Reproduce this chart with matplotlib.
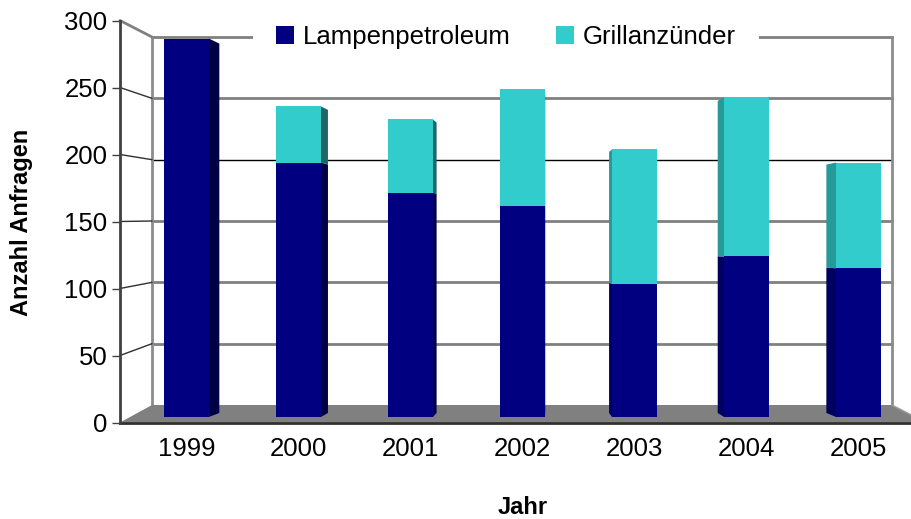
import numpy as np
import matplotlib
matplotlib.use('Agg')
import matplotlib.pyplot as plt
import matplotlib.transforms as mtransforms
from matplotlib.patches import Polygon, Patch, ConnectionPatch
from matplotlib.lines import Line2D

# data
years = ['1999', '2000', '2001', '2002', '2003', '2004', '2005']
lampenpetroleum = [290, 195, 172, 162, 102, 123, 114]
grillanzuender = [0, 43, 56, 89, 103, 122, 81]
series_names = ['Lampenpetroleum', 'Grillanzünder']
yticks = [0, 50, 100, 150, 200, 250, 300]

front_colors = ['#000080', '#33CCCC']
side_right = ['#000044', '#1f6666']
side_left = ['#00005e', '#269999']

W, H = 912, 519
plt.rcParams['font.family'] = ['Liberation Sans', 'DejaVu Sans']
fig = plt.figure(figsize=(W / 100, H / 100), dpi=100)


def fx(px):
    return px / W


def fy(py):
    return 1 - py / H


# pseudo 3D box, in pixels
wall_l, wall_r, wall_top, wall_bot = 152, 892, 37, 405
front_x, front_top, front_bot = 120, 20.5, 422.5
bar_bot, bar_scale = 417, 1.305
first_c, step = 186.5, 112
bar_w = 0.4
vp, depth = 3.1, 0.03      # vanishing point (category units) and side depth
fs = 18.5

"""
Back wall
"""
wall = fig.add_axes([fx(wall_l), fy(wall_bot), fx(wall_r - wall_l), (wall_bot - wall_top) / H], zorder=0)
wall.set_xlim(0, 1)
wall.set_ylim(0, 300)
for v in yticks[1:]:
    if v == 200:
        wall.axhline(v, color='black', lw=1, clip_on=False)
    else:
        wall.axhline(v, color='#808080', lw=2, clip_on=False)
wall.set_xticks([])
wall.set_yticks([])
for s in ['top', 'bottom']:
    wall.spines[s].set_visible(False)
for s in ['left', 'right']:
    wall.spines[s].set_color('#8c8c8c')
    wall.spines[s].set_linewidth(2)

"""
Front value axis
"""
front = fig.add_axes([fx(front_x), fy(front_bot), 0.0001, (front_bot - front_top) / H], zorder=3)
front.set_ylim(0, 300)
front.set_yticks(yticks)
front.set_xticks([])
front.tick_params(axis='y', length=6, width=1, color='#404040', labelsize=fs, pad=3)
for s in ['right', 'top', 'bottom']:
    front.spines[s].set_visible(False)
front.spines['left'].set_color('#404040')
front.spines['left'].set_linewidth(2)
front.patch.set_visible(False)

# slanted lines from the front ticks to the wall gridlines
for v in yticks[1:]:
    con = ConnectionPatch(xyA=(0, v), coordsA=front.transData, xyB=(0, v), coordsB=wall.transData,
                          color='#808080' if v == 300 else '#303030', lw=2 if v == 300 else 1)
    fig.add_artist(con)

"""
Bars
"""
ax = fig.add_axes([fx(front_x), fy(bar_bot), fx(W - front_x), (bar_bot - front_top) / H], zorder=2)
ax.set_xlim((front_x - first_c) / step, (W - first_c) / step)
ax.set_ylim(0, (bar_bot - front_top) / bar_scale)
ax.axis('off')

# floor
floor = Polygon([(fx(wall_l), fy(wall_bot)), (fx(wall_r), fy(wall_bot)), (fx(926), fy(front_bot)),
                 (fx(front_x), fy(front_bot))], closed=True, facecolor='#808080', edgecolor='none',
                transform=fig.transFigure, clip_on=False, zorder=0)
ax.add_patch(floor)
ax.add_line(Line2D([fx(front_x), 1], [fy(front_bot), fy(front_bot)], color='#303030', lw=2,
                   transform=fig.transFigure, clip_on=False, zorder=1))
ax.add_line(Line2D([fx(wall_r), fx(926)], [fy(wall_bot), fy(front_bot)], color='#a0a0a0', lw=1,
                   transform=fig.transFigure, clip_on=False, zorder=1))

lamp = np.array(lampenpetroleum)
grill = np.array(grillanzuender)
x = np.arange(len(years))
ax.bar(x, lamp, bar_w, color=front_colors[0], zorder=3)
ax.bar(x, grill, bar_w, bottom=lamp, color=front_colors[1], zorder=3)

# side faces, receding toward the vanishing point
for i in x:
    shift = (vp - i) * depth
    if shift > 0:
        edge, cols = i + bar_w / 2, side_right
    else:
        edge, cols = i - bar_w / 2, side_left
    segs = [(0, lamp[i], cols[0]), (lamp[i], lamp[i] + grill[i], cols[1])]
    for lo, hi, c in segs:
        if hi <= lo:
            continue
        ax.add_patch(Polygon([(edge, lo), (edge + shift, 3.1 + 0.976 * lo),
                              (edge + shift, 3.1 + 0.976 * hi), (edge, hi)],
                             closed=True, facecolor=c, edgecolor='none', zorder=2))

trans = mtransforms.blended_transform_factory(ax.transData, fig.transFigure)
for i, yr in enumerate(years):
    ax.text(i, fy(449), yr, transform=trans, ha='center', va='center', fontsize=fs, clip_on=False)

fig.text(fx(22), fy(222), 'Anzahl Anfragen', rotation=90, ha='center', va='center',
         fontsize=17, fontweight='bold')
fig.text(fx(523), fy(507), 'Jahr', ha='center', va='center', fontsize=17, fontweight='bold')

handles = [Patch(facecolor=front_colors[0]), Patch(facecolor=front_colors[1])]
fig.legend(handles, series_names, loc='center', bbox_to_anchor=(fx(506), fy(37)), ncol=2,
           frameon=True, facecolor='white', edgecolor='none', fancybox=False, framealpha=1,
           fontsize=fs, handlelength=0.7, handleheight=0.7, handletextpad=0.35,
           columnspacing=1.75, borderpad=0.9)

fig.savefig('out.png', dpi=100)
